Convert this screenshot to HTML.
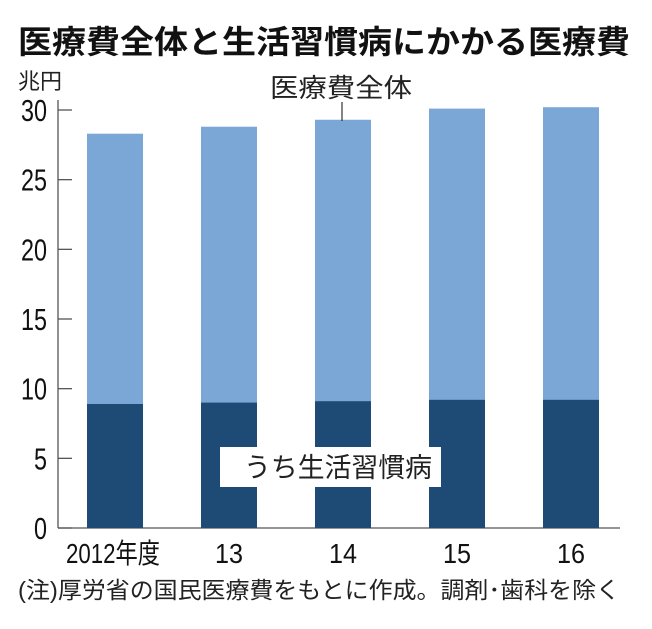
<!DOCTYPE html>
<html><head><meta charset="utf-8"><style>
body{margin:0;background:#fff;}
svg text{font-family:"Liberation Sans","Noto Sans CJK JP",sans-serif;}
</style></head><body>
<svg width="652" height="624" viewBox="0 0 652 624" xmlns="http://www.w3.org/2000/svg">
<text x="18" y="53" font-size="32" font-weight="bold" fill="#111" textLength="612" lengthAdjust="spacingAndGlyphs">医療費全体と生活習慣病にかかる医療費</text>
<text x="18" y="89" font-size="22" fill="#222">兆円</text>
<g id="axes"></g>
<g id="bars"></g>
<line x1="342" y1="102" x2="342" y2="121" stroke="#333" stroke-width="1.2"/>
<text x="270" y="97" font-size="26" fill="#222" textLength="142" lengthAdjust="spacingAndGlyphs">医療費全体</text>
<rect x="220" y="447" width="221" height="40" fill="#fff"/>
<text x="244" y="477" font-size="27" fill="#222" textLength="188" lengthAdjust="spacingAndGlyphs">うち生活習慣病</text>
<text x="18" y="598" font-size="23" fill="#222" textLength="602" lengthAdjust="spacingAndGlyphs">(注)厚労省の国民医療費をもとに作成。調剤･歯科を除く</text>
</svg>
<script>
const categories=["2012年度","13","14","15","16"];
const totalValues=[28.3,28.8,29.3,30.1,30.2];
const lifestyleValues=[8.9,9.0,9.1,9.2,9.2];
const yTicks=[0,5,10,15,20,25,30];
const NS="http://www.w3.org/2000/svg";
const y0=528,pxPerUnit=(528-110)/30;
function yScale(v){return y0-v*pxPerUnit;}
function xCenter(i){return 115+i*114;}
function mk(tag,attrs,parent){const e=document.createElementNS(NS,tag);for(const k in attrs)e.setAttribute(k,attrs[k]);parent.appendChild(e);return e;}
const axes=document.getElementById('axes'),bars=document.getElementById('bars');
let a=mk('line',{x1:58,y1:100,x2:58,y2:y0,stroke:'#555','stroke-width':1.3},axes);


let b=mk('line',{x1:58,y1:y0,x2:620,y2:y0,stroke:'#555','stroke-width':1.3},axes);


yTicks.forEach(t=>{
 const tk=mk('line',{x1:58,y1:yScale(t),x2:72,y2:yScale(t),stroke:'#555','stroke-width':1.3},axes);
 
 
 const s=String(t);
 const w=s.length*13;
 const tl=mk('text',{x:47-w,y:yScale(t)+11,'font-size':31,fill:'#111',textLength:w,lengthAdjust:'spacingAndGlyphs'},axes);
 tl.textContent=s;
 
 
});
categories.forEach((c,i)=>{
 const x=xCenter(i)-28;
 const r1=mk('rect',{x:x,y:yScale(totalValues[i]),width:56,height:y0-yScale(totalValues[i]),fill:'#7ba7d7'},bars);
 
 
 const r2=mk('rect',{x:x,y:yScale(lifestyleValues[i]),width:56,height:y0-yScale(lifestyleValues[i]),fill:'#1e4a76'},bars);
 
 
 const w=i===0?94:28;
 const cx=i===0?113:xCenter(i);
 const tl=mk('text',{x:cx-w/2,y:563,'font-size':28,fill:'#111',textLength:w,lengthAdjust:'spacingAndGlyphs'},bars);
 tl.textContent=c;
 
 
});
</script>
</body></html>
